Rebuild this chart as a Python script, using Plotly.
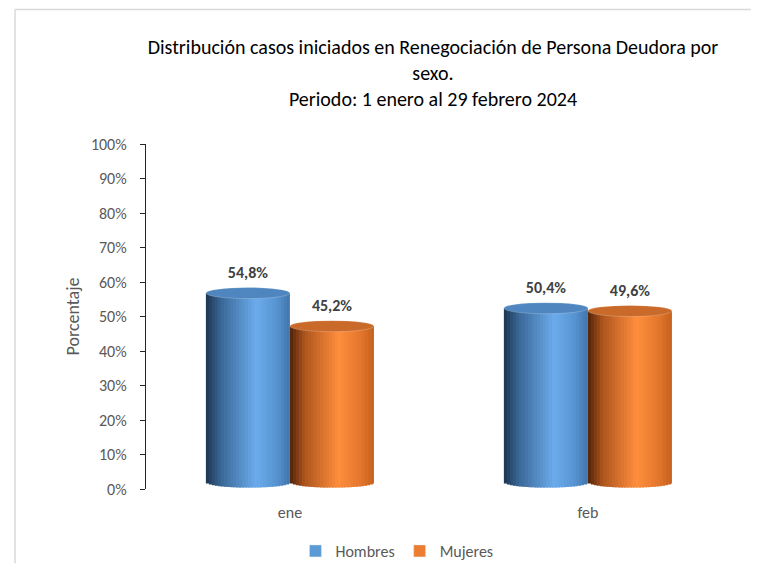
import plotly.graph_objects as go

# ---- data ----
categories = ["ene", "feb"]
series_names = ["Hombres", "Mujeres"]
hombres = [0.548, 0.504]
mujeres = [0.452, 0.496]
y_ticks = [0, 0.1, 0.2, 0.3, 0.4, 0.5, 0.6, 0.7, 0.8, 0.9, 1.0]
y_tick_labels = ["0%", "10%", "20%", "30%", "40%", "50%", "60%", "70%", "80%", "90%", "100%"]

# ---- style ----
FONT = "Calibri, Carlito, Lato, 'Open Sans', sans-serif"
GREY = "#595959"
BAR_W = 0.282
DEPTH = 0.02       # 3D floor offset
RY = 0.016         # ellipse half-height (data units)
NSLICE = 28

grad = {
    "Hombres": [(0.0, (28, 52, 80)), (0.18, (58, 104, 152)), (0.6, (108, 172, 236)),
                (0.85, (86, 146, 208)), (1.0, (66, 116, 170))],
    "Mujeres": [(0.0, (80, 36, 10)), (0.18, (176, 86, 30)), (0.58, (255, 142, 62)),
                (0.85, (226, 118, 44)), (1.0, (196, 96, 30))],
}
top_col = {"Hombres": "#4f86bf", "Mujeres": "#c96a2b"}
legend_col = {"Hombres": "#5b9bd5", "Mujeres": "#ed7d31"}
offsets = {"Hombres": -BAR_W, "Mujeres": 0.0}


def interp(stops, t):
    for (t0, c0), (t1, c1) in zip(stops, stops[1:]):
        if t0 <= t <= t1:
            f = (t - t0) / (t1 - t0) if t1 > t0 else 0
            c = [round(a + (b - a) * f) for a, b in zip(c0, c1)]
            return "rgb({},{},{})".format(*c)
    c = stops[-1][1]
    return "rgb({},{},{})".format(*c)


fig = go.Figure()
xs = list(range(len(categories)))
data = {"Hombres": hombres, "Mujeres": mujeres}

shapes = []
for name in series_names:
    vals = data[name]
    off = offsets[name]
    sw = BAR_W / NSLICE
    for k in range(NSLICE):
        t = (k + 0.5) / NSLICE
        u = 2 * t - 1
        curve = RY * (max(0.0, 1 - u * u)) ** 0.5
        base = DEPTH - curve
        width = sw * 1.7 if k < NSLICE - 1 else sw
        fig.add_trace(go.Bar(
            x=xs, y=[v + DEPTH - base for v in vals], base=[base] * len(vals),
            offset=off + k * sw, width=width,
            marker=dict(color=interp(grad[name], t), line=dict(width=0)),
            showlegend=False, hoverinfo="skip",
        ))
    for i, v in enumerate(vals):
        shapes.append(dict(
            type="circle", xref="x", yref="y",
            x0=xs[i] + off, x1=xs[i] + off + BAR_W,
            y0=v + DEPTH - RY, y1=v + DEPTH + RY,
            fillcolor=top_col[name], line=dict(width=0.6, color="rgba(255,255,255,0.35)"),
            layer="above",
        ))
    # data labels
    fig.add_trace(go.Scatter(
        x=[xi + off + BAR_W / 2 for xi in xs],
        y=[v + DEPTH + 0.055 for v in vals],
        mode="text",
        text=[("{:.1f}%".format(v * 100)).replace(".", ",") for v in vals],
        textfont=dict(family=FONT, size=16, color="#404040", weight="bold"),
        showlegend=False, hoverinfo="skip",
    ))

# legend entries
for name in series_names:
    fig.add_trace(go.Bar(x=[None], y=[None], name=name,
                         marker=dict(color=legend_col[name])))

# outer light border (top and left edges), kept inside the figure
shapes.append(dict(type="line", xref="paper", yref="paper",
                   x0=-0.222, x1=1.025, y0=1.39, y1=1.39,
                   line=dict(color="#d9d9d9", width=1.5), layer="below"))
shapes.append(dict(type="line", xref="paper", yref="paper",
                   x0=-0.222, x1=-0.222, y0=-0.215, y1=1.39,
                   line=dict(color="#d9d9d9", width=1.5), layer="below"))

fig.update_layout(
    width=744, height=556,
    margin=dict(l=138, r=16, t=136, b=75),
    paper_bgcolor="white", plot_bgcolor="white",
    barmode="overlay",
    shapes=shapes,
    title=dict(
        text="Distribución casos iniciados en Renegociación de Persona Deudora por<br>sexo.<br>Periodo: 1 enero al 29 febrero 2024",
        x=0.5712, xanchor="center", y=0.9176, yanchor="top",
        font=dict(family=FONT, size=20, color="black"),
    ),
    font=dict(family=FONT, color=GREY),
    legend=dict(orientation="h", x=0.5228, xanchor="center", xref="container",
                y=0.0234, yanchor="middle", yref="container",
                font=dict(family=FONT, size=16, color=GREY),
                itemwidth=30, traceorder="normal"),
    showlegend=True,
)

fig.update_xaxes(
    range=[-0.483, 1.497], tickmode="array", tickvals=xs, ticktext=categories,
    showgrid=False, zeroline=False, showline=False, ticks="",
    tickfont=dict(family=FONT, size=16, color=GREY), ticklabelstandoff=12,
    automargin=False,
)
fig.update_yaxes(
    range=[0, 1], tickmode="array", tickvals=y_ticks, ticktext=y_tick_labels,
    showgrid=False, zeroline=False, showline=True, linecolor="#262626", linewidth=1.3,
    ticks="outside", ticklen=5, tickcolor="#262626", tickwidth=1.3,
    tickfont=dict(family=FONT, size=16, color=GREY), ticklabelstandoff=10,
    title=dict(text="Porcentaje", font=dict(family=FONT, size=18, color=GREY), standoff=6),
    automargin=False,
)

fig.write_html("out.html")
